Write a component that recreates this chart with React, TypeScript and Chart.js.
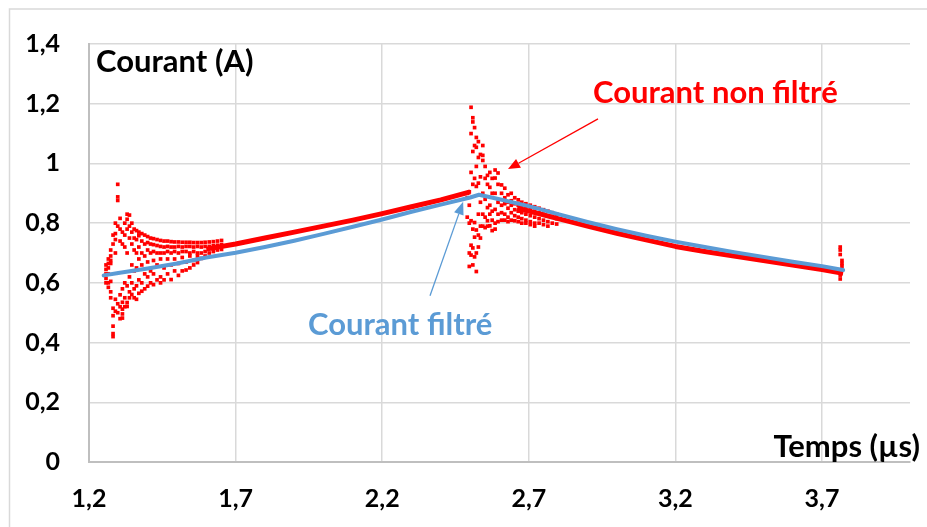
import React, { useEffect, useRef } from 'react';
import { Chart, registerables } from 'chart.js';

Chart.register(...registerables);

// ---------- data ----------
const xTickValues = [1.2, 1.7, 2.2, 2.7, 3.2, 3.7];

// Courant filtré (blue)
const filteredTime = [1.25, 1.3, 1.4, 1.5, 1.6, 1.7, 1.8, 1.9, 2.0, 2.1, 2.2, 2.3, 2.4, 2.5, 2.53, 2.6, 2.7, 2.8, 2.9, 3.0, 3.1, 3.2, 3.3, 3.4, 3.5, 3.6, 3.7, 3.772];
const filteredCurrent = [0.625, 0.633, 0.648, 0.665, 0.685, 0.701, 0.72, 0.741, 0.764, 0.788, 0.812, 0.838, 0.862, 0.886, 0.895, 0.88, 0.857, 0.83, 0.804, 0.78, 0.758, 0.738, 0.72, 0.703, 0.687, 0.671, 0.656, 0.643];

// Courant non filtré: smooth part (null = gap during the ringing)
const rawTrendTime = [1.6, 1.7, 1.8, 1.9, 2.0, 2.1, 2.2, 2.3, 2.4, 2.5, 2.58, 2.66, 2.7, 2.8, 2.9, 3.0, 3.1, 3.2, 3.3, 3.4, 3.5, 3.6, 3.7, 3.772];
const rawTrendCurrent = [0.713, 0.73, 0.75, 0.77, 0.79, 0.81, 0.832, 0.855, 0.878, 0.905, null, 0.85, 0.84, 0.815, 0.79, 0.766, 0.744, 0.722, 0.705, 0.69, 0.675, 0.66, 0.645, 0.632];

// Courant non filtré: first ringing burst (one column of samples per time)
const burst1Time = [1.258, 1.266, 1.274, 1.282, 1.29, 1.298, 1.306, 1.314, 1.322, 1.33, 1.338, 1.346, 1.354, 1.362, 1.37, 1.38, 1.39, 1.4, 1.41, 1.42, 1.432, 1.444, 1.456, 1.468, 1.48, 1.492, 1.505, 1.518, 1.531, 1.544, 1.557, 1.57, 1.583, 1.596, 1.61, 1.624, 1.638, 1.652];
const burst1Current = [
  [0.66, 0.645, 0.63, 0.615, 0.6],
  [0.68, 0.665, 0.65, 0.63, 0.6, 0.585],
  [0.71, 0.69, 0.675, 0.665, 0.605, 0.57, 0.55],
  [0.76, 0.73, 0.515, 0.49, 0.455, 0.43, 0.42],
  [0.8, 0.765, 0.745, 0.7, 0.545, 0.505],
  [0.93, 0.888, 0.876, 0.79, 0.53, 0.5],
  [0.816, 0.78, 0.74, 0.56, 0.52, 0.48],
  [0.77, 0.73, 0.58, 0.535, 0.512, 0.496, 0.482],
  [0.8, 0.76, 0.72, 0.6, 0.55, 0.52],
  [0.83, 0.813, 0.78, 0.7, 0.59, 0.534, 0.521],
  [0.827, 0.79, 0.75, 0.62, 0.57, 0.55],
  [0.8, 0.77, 0.73, 0.66, 0.6, 0.561],
  [0.78, 0.75, 0.71, 0.64, 0.58, 0.55],
  [0.775, 0.745, 0.7, 0.65, 0.59, 0.545],
  [0.77, 0.758, 0.72, 0.68, 0.61, 0.565],
  [0.765, 0.74, 0.7, 0.66, 0.6, 0.572],
  [0.76, 0.73, 0.69, 0.63, 0.58],
  [0.755, 0.735, 0.71, 0.67, 0.62, 0.589],
  [0.75, 0.73, 0.7, 0.64, 0.6],
  [0.748, 0.728, 0.705, 0.675, 0.63, 0.594],
  [0.745, 0.725, 0.7, 0.66, 0.61],
  [0.742, 0.722, 0.7, 0.68, 0.62, 0.6],
  [0.74, 0.72, 0.7, 0.65, 0.61],
  [0.74, 0.722, 0.705, 0.68, 0.63],
  [0.738, 0.72, 0.7, 0.66, 0.611],
  [0.737, 0.72, 0.705, 0.68, 0.64],
  [0.737, 0.722, 0.7, 0.665, 0.625],
  [0.736, 0.72, 0.705, 0.685, 0.64],
  [0.736, 0.722, 0.705, 0.67, 0.643],
  [0.736, 0.722, 0.7, 0.69, 0.65],
  [0.735, 0.72, 0.705, 0.675, 0.66],
  [0.735, 0.722, 0.7, 0.69, 0.668],
  [0.735, 0.72, 0.7, 0.682],
  [0.736, 0.722, 0.705, 0.69],
  [0.737, 0.722, 0.7],
  [0.738, 0.724, 0.705],
  [0.74, 0.726, 0.71],
  [0.742, 0.728, 0.712],
];

// Courant non filtré: second ringing burst
const burst2Time = [2.49, 2.497, 2.503, 2.509, 2.515, 2.521, 2.528, 2.535, 2.543, 2.551, 2.559, 2.567, 2.575, 2.585, 2.595, 2.607, 2.618, 2.629, 2.64, 2.652, 2.664, 2.676, 2.69, 2.705, 2.72, 2.735, 2.75, 2.765, 2.78, 2.795];
const burst2Current = [
  [0.9, 0.885, 0.82],
  [0.905, 0.86, 0.8, 0.7, 0.655],
  [1.188, 1.1, 0.97, 0.808, 0.726, 0.693],
  [1.153, 1.139, 1.04, 0.93, 0.78, 0.717, 0.66],
  [1.12, 1.06, 0.95, 0.802, 0.753, 0.687],
  [1.087, 1.054, 0.99, 0.923, 0.777, 0.7, 0.638],
  [1.073, 1.02, 0.934, 0.83, 0.76, 0.72],
  [1.03, 0.955, 0.87, 0.79, 0.75],
  [1.06, 1.027, 1.01, 0.9, 0.83, 0.79],
  [0.99, 0.95, 0.88, 0.82, 0.785],
  [0.96, 0.93, 0.852, 0.808, 0.79],
  [0.97, 0.92, 0.86, 0.83, 0.791],
  [0.95, 0.9, 0.84, 0.81, 0.775],
  [0.978, 0.951, 0.9, 0.846, 0.8, 0.78],
  [0.968, 0.93, 0.87, 0.83, 0.805],
  [0.928, 0.9, 0.86, 0.835, 0.81],
  [0.917, 0.885, 0.865, 0.83, 0.81],
  [0.895, 0.87, 0.85, 0.82, 0.805],
  [0.9, 0.875, 0.86, 0.835, 0.81],
  [0.885, 0.865, 0.845, 0.825, 0.808],
  [0.878, 0.86, 0.84, 0.82, 0.805],
  [0.87, 0.855, 0.835, 0.815, 0.8],
  [0.865, 0.85, 0.83, 0.81, 0.8],
  [0.86, 0.845, 0.825, 0.805, 0.795],
  [0.855, 0.84, 0.82, 0.8, 0.79],
  [0.85, 0.835, 0.815, 0.8],
  [0.845, 0.83, 0.81, 0.795],
  [0.84, 0.825, 0.805, 0.79],
  [0.835, 0.82, 0.8],
  [0.83, 0.815, 0.797],
];

// Courant non filtré: small spike at the end
const burst3Time = [3.762, 3.768];
const burst3Current = [
  [0.72, 0.71, 0.695, 0.626, 0.613],
  [0.675, 0.665, 0.656],
];

// ---------- styling ----------
const FONT = 'Lato, "Open Sans", "DejaVu Sans", sans-serif';
const RED = '#FF0000';
const BLUE = '#5B9BD5';

const fmt = (v: number | string) => String(Math.round(Number(v) * 10) / 10).replace('.', ',');

function drawArrow(ctx: CanvasRenderingContext2D, x0: number, y0: number, x1: number, y1: number, color: string, headLen: number, headW: number) {
  const ang = Math.atan2(y1 - y0, x1 - x0);
  const bx = x1 - Math.cos(ang) * headLen;
  const by = y1 - Math.sin(ang) * headLen;
  ctx.save();
  ctx.strokeStyle = color;
  ctx.fillStyle = color;
  ctx.lineWidth = 1.3;
  ctx.beginPath();
  ctx.moveTo(x0, y0);
  ctx.lineTo(bx, by);
  ctx.stroke();
  ctx.beginPath();
  ctx.moveTo(x1, y1);
  ctx.lineTo(bx + Math.sin(ang) * headW / 2, by - Math.cos(ang) * headW / 2);
  ctx.lineTo(bx - Math.sin(ang) * headW / 2, by + Math.cos(ang) * headW / 2);
  ctx.closePath();
  ctx.fill();
  ctx.restore();
}

export default function App() {
  const ref = useRef<HTMLCanvasElement>(null);

  useEffect(() => {
    document.body.style.margin = '0';
    const canvas = ref.current;
    if (!canvas) return;

    const toPts = (xs: number[], ys: (number | null)[]) => xs.map((x, i) => ({ x, y: ys[i] }));
    const burstPts = (ts: number[], cols: number[][]) => ts.flatMap((t, i) => cols[i].map((v) => ({ x: t, y: v })));
    const rawPoints = [
      ...burstPts(burst1Time, burst1Current),
      ...burstPts(burst2Time, burst2Current),
      ...burstPts(burst3Time, burst3Current),
    ];

    const annot = {
      id: 'annot',
      beforeDraw(chart: any) {
        const ctx = chart.ctx as CanvasRenderingContext2D;
        ctx.save();
        ctx.fillStyle = '#ffffff';
        ctx.fillRect(0, 0, chart.width, chart.height);
        ctx.strokeStyle = '#d9d9d9';
        ctx.lineWidth = 1.5;
        ctx.strokeRect(9.5, 9, chart.width + 20, chart.height + 20);
        ctx.restore();
      },
      afterDraw(chart: any) {
        const ctx = chart.ctx as CanvasRenderingContext2D;
        const xs = chart.scales.x;
        const ys = chart.scales.y;
        const px = (v: number) => xs.getPixelForValue(v);
        const py = (v: number) => ys.getPixelForValue(v);
        ctx.save();
        ctx.textBaseline = 'alphabetic';
        ctx.font = `bold 31px ${FONT}`;
        ctx.fillStyle = '#000000';
        ctx.textAlign = 'left';
        ctx.fillText('Courant (A)', 96, 72);
        ctx.textAlign = 'right';
        ctx.fillText('Temps (µs)', 920, 457);
        ctx.textAlign = 'left';
        ctx.fillStyle = RED;
        ctx.fillText('Courant non filtré', 593, 103);
        ctx.fillStyle = BLUE;
        ctx.fillText('Courant filtré', 308, 335);
        ctx.restore();
        drawArrow(ctx, px(2.936), py(1.149), px(2.629), py(0.981), RED, 12, 10);
        drawArrow(ctx, px(2.363), py(0.557), px(2.476), py(0.872), BLUE, 13, 10);
      },
    };

    const tickFont = { family: FONT, size: 25, weight: 'bold' as const };

    const chart = new Chart(canvas, {
      type: 'scatter',
      data: {
        datasets: [
          {
            label: 'Courant filtré',
            data: toPts(filteredTime, filteredCurrent),
            showLine: true,
            borderColor: BLUE,
            backgroundColor: BLUE,
            borderWidth: 4,
            pointRadius: 0,
            borderJoinStyle: 'round',
            borderCapStyle: 'round',
          },
          {
            label: 'Courant non filtré',
            data: toPts(rawTrendTime, rawTrendCurrent) as any,
            showLine: true,
            spanGaps: false,
            borderColor: RED,
            backgroundColor: RED,
            borderWidth: 5,
            pointRadius: 0,
            borderJoinStyle: 'round',
          },
          {
            label: 'Courant non filtré (oscillations)',
            data: rawPoints,
            showLine: false,
            pointStyle: 'rect',
            pointRadius: 2.6,
            pointBorderWidth: 0,
            backgroundColor: RED,
            borderColor: RED,
          },
        ],
      },
      options: {
        responsive: false,
        animation: false,
        devicePixelRatio: 1,
        layout: { padding: { left: 0, top: 37, right: 17, bottom: 0 } },
        plugins: { legend: { display: false }, tooltip: { enabled: false } },
        scales: {
          x: {
            type: 'linear',
            min: 1.2,
            max: 4.0,
            afterBuildTicks: (s: any) => {
              s.ticks = xTickValues.map((v) => ({ value: v }));
            },
            afterFit: (s: any) => {
              s.height = 65;
            },
            grid: { color: '#d9d9d9', lineWidth: 1.5, drawTicks: false },
            border: { color: '#bfbfbf', width: 2 },
            ticks: {
              padding: 22,
              color: '#000000',
              font: tickFont,
              maxRotation: 0,
              autoSkip: false,
              callback: (v: any) => fmt(v),
            },
          },
          y: {
            type: 'linear',
            min: 0,
            max: 1.4,
            afterFit: (s: any) => {
              s.width = 89;
            },
            grid: { color: '#d9d9d9', lineWidth: 1.5, drawTicks: false },
            border: { color: '#bfbfbf', width: 2 },
            ticks: {
              stepSize: 0.2,
              padding: 29,
              color: '#000000',
              font: tickFont,
              callback: (v: any) => fmt(v),
            },
          },
        },
      },
      plugins: [annot],
    });

    return () => chart.destroy();
  }, []);

  return <canvas ref={ref} width={927} height={527} style={{ display: 'block' }} />;
}
